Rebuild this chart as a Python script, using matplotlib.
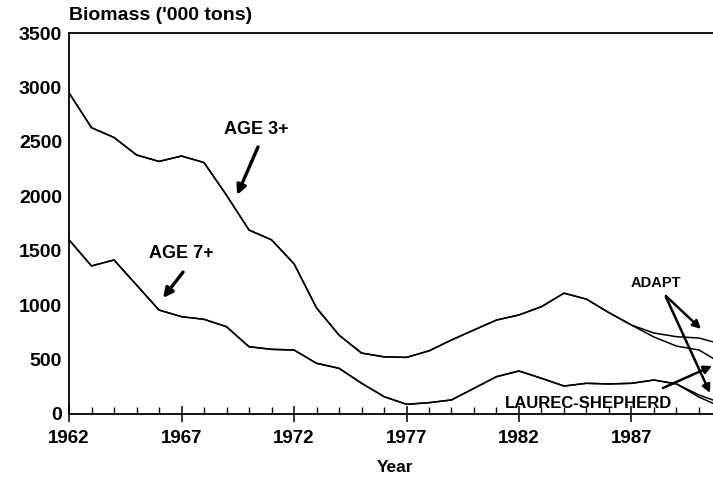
#!/usr/bin/env python3
# -*- coding: utf-8 -*-

"""
Biomasa (miles de toneladas) por año, edades 3+ y 7+,
estimada con ADAPT y con Laurec-Shepherd.
"""

import numpy as np
import matplotlib.pyplot as plt
from matplotlib.ticker import MultipleLocator

# Datos
years = np.arange(1962, 1992)

age3_adapt = [2950, 2630, 2540, 2380, 2320, 2370, 2310, 2010, 1690, 1600,
              1380, 975, 725, 560, 525, 520, 580, 680, 772, 863,
              910, 986, 1110, 1055, 931, 817, 744, 710, 698, 641]
age3_ls = [2950, 2630, 2540, 2380, 2320, 2370, 2310, 2010, 1690, 1600,
           1380, 975, 725, 560, 525, 520, 580, 680, 772, 863,
           910, 986, 1110, 1055, 931, 817, 707, 624, 588, 465]

age7_adapt = [1600, 1360, 1415, 1185, 955, 894, 870, 802, 618, 594,
              588, 466, 420, 283, 160, 89, 104, 129, 236, 343,
              395, 328, 257, 282, 276, 282, 312, 276, 175, 100]
age7_ls = [1600, 1360, 1415, 1185, 955, 894, 870, 802, 618, 594,
           588, 466, 420, 283, 160, 89, 104, 129, 236, 343,
           395, 328, 257, 282, 276, 282, 312, 276, 156, 63]

major_years = [1962, 1967, 1972, 1977, 1982, 1987]
y_ticks = [0, 500, 1000, 1500, 2000, 2500, 3000, 3500]

plt.rcParams['font.family'] = ['Liberation Sans', 'DejaVu Sans']
plt.rcParams['font.weight'] = 'bold'

fig = plt.figure(figsize=(7.13, 4.79), dpi=100)
# el original está recortado a la derecha: el eje llega hasta 1991 fuera de la imagen
ax = fig.add_axes([0.0968, 0.1357, 0.9151, 0.7954])

for serie in (age3_adapt, age3_ls, age7_adapt, age7_ls):
    ax.plot(years, serie, color='black', lw=1.1)

ax.set_xlim(1962, 1991)
ax.set_ylim(0, 3500)

ax.set_xticks(major_years)
ax.xaxis.set_minor_locator(MultipleLocator(1))
ax.set_yticks(y_ticks)
ax.tick_params(axis='x', which='major', direction='inout', length=11.5,
               width=1.1, labelsize=13.5, pad=6)
ax.tick_params(axis='x', which='minor', direction='in', length=5, width=1.0)
ax.tick_params(axis='y', length=0, labelsize=14, pad=5)

for side in ('left', 'bottom', 'top'):
    ax.spines[side].set_linewidth(1.3)
ax.spines['right'].set_visible(False)

ax.set_xlabel('Year', fontsize=12.5, fontweight='bold', labelpad=9)
fig.text(69 / 713, 1 - 16 / 479, "Biomass ('000 tons)", fontsize=14,
         fontweight='bold', ha='left', va='center')

# Etiquetas con flechas
flecha = dict(arrowstyle='-|>', color='black', lw=2.4, mutation_scale=14,
              shrinkA=0, shrinkB=0)
flecha_fina = dict(arrowstyle='-|>', color='black', lw=1.8, mutation_scale=12,
                   shrinkA=0, shrinkB=0)

ax.text(1970.31, 2609, 'AGE 3+', fontsize=13, ha='center', va='center')
ax.annotate('', xy=(1969.47, 2012), xytext=(1970.4, 2453), arrowprops=flecha)

ax.text(1966.98, 1479, 'AGE 7+', fontsize=13, ha='center', va='center')
ax.annotate('', xy=(1966.18, 1066), xytext=(1967.07, 1304), arrowprops=flecha)

ax.text(1988.09, 1203, 'ADAPT', fontsize=10.5, ha='center', va='center')
ax.annotate('', xy=(1990.09, 781), xytext=(1988.53, 1084),
            arrowprops=flecha_fina, annotation_clip=False)
ax.annotate('', xy=(1990.49, 193), xytext=(1988.53, 1075),
            arrowprops=flecha_fina, annotation_clip=False)

ax.text(1985.09, 101, 'LAUREC-SHEPHERD', fontsize=12, ha='center', va='center')
ax.annotate('', xy=(1990.58, 441), xytext=(1988.4, 239),
            arrowprops=flecha_fina, annotation_clip=False)

fig.savefig('out.png', dpi=100)
